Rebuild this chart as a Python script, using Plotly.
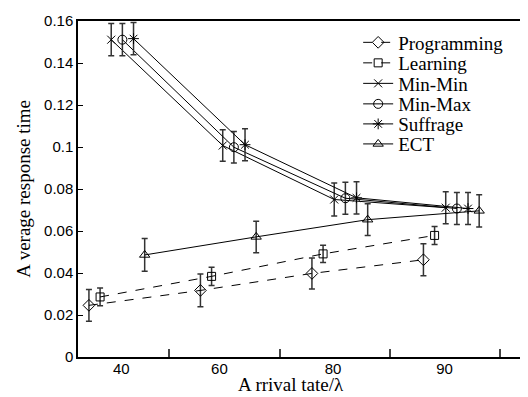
import plotly.graph_objects as go

# ---- data ----
arrival_rate_labels = ["40", "60", "80", "90"]
group_index = [1, 2, 3, 4]

programming = [0.0246, 0.0317, 0.0398, 0.0463]
programming_err = [0.0076, 0.0078, 0.0074, 0.0076]
learning = [0.0286, 0.0384, 0.0491, 0.0579]
learning_err = [0.0042, 0.0043, 0.0041, 0.0043]
min_min = [0.1511, 0.1007, 0.0750, 0.0711]
min_min_err = [0.0077, 0.0075, 0.0078, 0.0076]
min_max = [0.1511, 0.0999, 0.0756, 0.0707]
min_max_err = [0.0077, 0.0075, 0.0076, 0.0076]
suffrage = [0.1516, 0.1011, 0.0758, 0.0707]
suffrage_err = [0.0077, 0.0076, 0.0077, 0.0076]
ect = [0.0486, 0.0572, 0.0654, 0.0696]
ect_err = [0.0078, 0.0075, 0.0076, 0.0077]

series = [
    ("Programming", programming, programming_err, "diamond-open", 9, "dash"),
    ("Learning", learning, learning_err, "square-open", 8, "dash"),
    ("Min-Min", min_min, min_min_err, "x-thin-open", 8, "solid"),
    ("Min-Max", min_max, min_max_err, "circle-open", 9, "solid"),
    ("Suffrage", suffrage, suffrage_err, "asterisk-open", 9, "solid"),
    ("ECT", ect, ect_err, "triangle-up-open", 9, "solid"),
]

SERIF = "Liberation Serif"
SANS = "Liberation Sans"

W, H = 520, 389
ML, MR, MT, MB = 70, 4, 5, 40
PH = H - MT - MB

fig = go.Figure()
offset_step = 0.1
legend_ids = ["legend", "legend2", "legend3", "legend4", "legend5", "legend6"]
for k, (name, vals, errs, sym, size, dash) in enumerate(series):
    xs = [g + k * offset_step for g in group_index]
    fig.add_trace(go.Scatter(
        x=xs, y=vals, name=name, mode="lines+markers",
        legend=legend_ids[k],
        line=dict(color="black", width=1, dash=dash),
        marker=dict(symbol=sym, size=size, color="black",
                    line=dict(color="black", width=1)),
        error_y=dict(type="data", array=errs, visible=True,
                     color="#333333", thickness=1.5, width=3),
    ))

# one small legend per entry so the row spacing can match the reference
row_px = [27, 48, 69, 90, 110.5, 131]
legend_layout = {}
for k, lid in enumerate(legend_ids):
    legend_layout[lid] = dict(
        x=0.631, y=(MT + PH - row_px[k]) / PH, xanchor="left", yanchor="middle",
        bgcolor="rgba(0,0,0,0)", borderwidth=0,
        font=dict(family=SERIF, size=19, color="black"),
    )

fig.update_layout(
    width=W, height=H,
    margin=dict(l=ML, r=MR, t=MT, b=MB),
    paper_bgcolor="white", plot_bgcolor="white",
    showlegend=True,
    xaxis=dict(
        range=[0.902, 4.884],
        tickmode="array",
        tickvals=[1.29, 2.17, 3.19, 4.19],
        ticktext=arrival_rate_labels,
        ticks="",
        ticklabelstandoff=-3,
        minor=dict(tickmode="array", tickvals=[1.72, 2.71, 3.70, 4.69],
                   ticks="inside", ticklen=8, tickwidth=1.5, tickcolor="#444"),
        showgrid=False, zeroline=False,
        showline=True, linecolor="black", linewidth=1.5, mirror=True,
        tickfont=dict(family=SANS, size=15, color="black"),
    ),
    yaxis=dict(
        range=[0, 0.16], dtick=0.02, tick0=0,
        ticks="inside", ticklen=5, tickwidth=1.2, tickcolor="black",
        ticklabeloverflow="allow",
        showgrid=False, zeroline=False,
        showline=True, linecolor="black", linewidth=1.5, mirror=True,
        tickfont=dict(family=SANS, size=15, color="black"),
    ),
    annotations=[
        dict(text="A rrival tate/λ", xref="paper", yref="paper",
             x=0.479, y=-0.081, xanchor="center", yanchor="middle",
             showarrow=False, font=dict(family=SERIF, size=19, color="black")),
        dict(text="A verage response time", xref="paper", yref="paper",
             x=-0.1244, y=0.5, xanchor="center", yanchor="middle",
             textangle=-90, showarrow=False,
             font=dict(family=SERIF, size=19, color="black")),
    ],
    **legend_layout,
)

fig.write_html("out.html")
